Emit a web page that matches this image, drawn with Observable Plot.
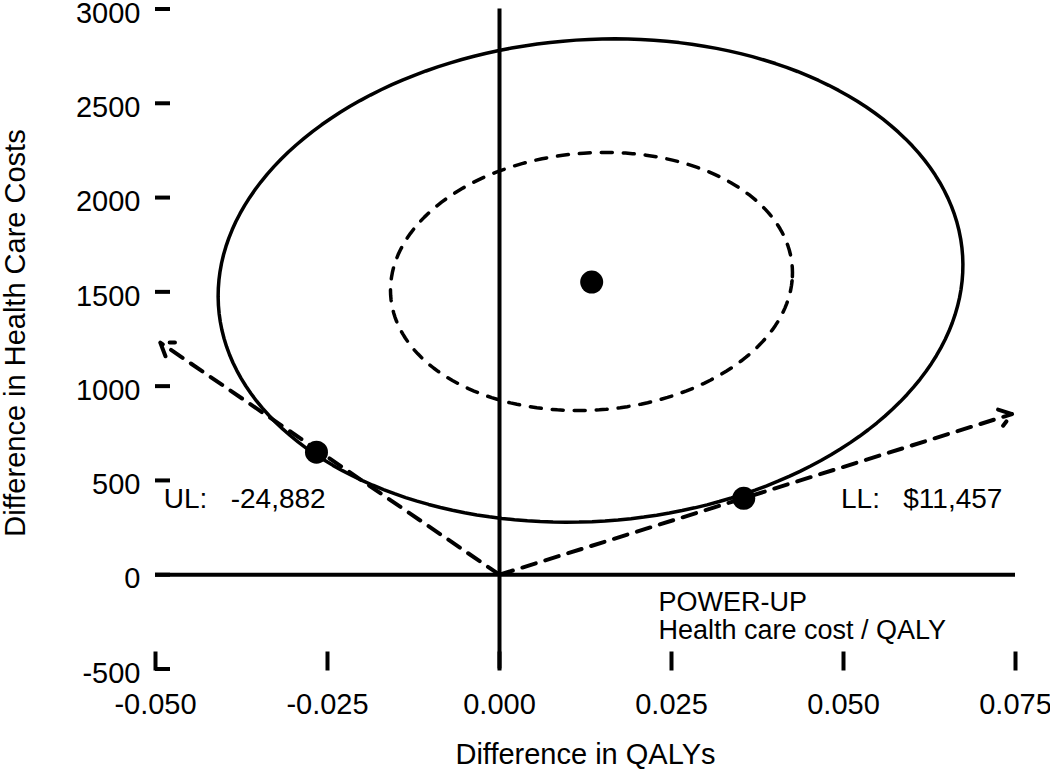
<!DOCTYPE html>
<html>
<head>
<meta charset="utf-8">
<script src="https://cdn.jsdelivr.net/npm/d3@7"></script>
<script src="https://cdn.jsdelivr.net/npm/@observablehq/plot@0.6"></script>
<style>
  html, body { margin: 0; padding: 0; background: #fff; }
</style>
</head>
<body>
<div id="chart"></div>
<script>
// ---- data ----
const xTicks = [-0.050, -0.025, 0.000, 0.025, 0.050, 0.075];
const yTicks = [-500, 0, 500, 1000, 1500, 2000, 2500, 3000];

// point estimate and the two limit points on the 95% ellipse
const pointLabels = ["mean", "UL", "LL"];
const pointX = [0.0134, -0.0266, 0.0355];
const pointY = [1552, 650, 405];

// ICER ray end points (rays start at the origin)
const rayLabels = ["UL", "LL"];
const rayEndX = [-0.0493, 0.0745];
const rayEndY = [1231, 852];

// confidence ellipses: centre, semi-axes, small tilt (x shift at top, y shift at right)
const ellipseNames = ["95%", "50%"];
const ellipseCx = [0.01323, 0.01337];
const ellipseCy = [1560, 1555];
const ellipseRx = [0.0541, 0.0292];
const ellipseRy = [1281, 684];
const ellipseTiltX = [0.00167, 0.0009];
const ellipseTiltY = [42, 25];

// annotations
const noteText = ["UL:\u00a0\u00a0\u00a0-24,882", "LL:\u00a0\u00a0\u00a0$11,457", "POWER-UP", "Health care cost / QALY"];
const noteX = [-0.0488, 0.0731, 0.0231, 0.0231];
const noteY = [399, 399, -148, -295];
const noteAnchor = ["start", "end", "start", "start"];
const noteSize = [28, 28, 27, 27];

// ---- build tables ----
const steps = d3.range(0, 361, 2).map(a => a * Math.PI / 180);
const ellipses = ellipseNames.flatMap((name, i) => steps.map(t => ({
  name,
  x: ellipseCx[i] + ellipseRx[i] * Math.cos(t) + ellipseTiltX[i] * Math.sin(t),
  y: ellipseCy[i] + ellipseRy[i] * Math.sin(t) + ellipseTiltY[i] * Math.cos(t)
})));
const points = pointLabels.map((k, i) => ({k, x: pointX[i], y: pointY[i]}));
const rays = rayLabels.map((k, i) => ({k, x1: 0, y1: 0, x2: rayEndX[i], y2: rayEndY[i]}));
const notes = noteText.map((t, i) => ({t, x: noteX[i], y: noteY[i], a: noteAnchor[i], s: noteSize[i]}));

const font = "'Liberation Sans', Arial, sans-serif";

const chart = Plot.plot({
  width: 1050,
  height: 769,
  marginLeft: 155,
  marginRight: 35,
  marginTop: 8.5,
  marginBottom: 100.5,
  style: {fontFamily: font, fontSize: "29px", color: "#000", background: "#fff", overflow: "visible"},
  x: {domain: [-0.05, 0.075]},
  y: {domain: [-500, 3000]},
  marks: [
    // inward tick marks
    Plot.ruleY(yTicks, {y: d => d, insetRight: 845, stroke: "#000", strokeWidth: 4}),
    Plot.ruleX(xTicks, {x: d => d, insetTop: 645, stroke: "#000", strokeWidth: 4, strokeLinecap: "square"}),
    // tick labels
    Plot.axisY({ticks: yTicks, tickSize: 0, tickPadding: 15, tickFormat: d => String(d), label: null, dy: 4.5, fontSize: 29}),
    Plot.axisX({ticks: xTicks, tickSize: 0, tickPadding: 24, tickFormat: d => d.toFixed(3), label: null, fontSize: 29}),
    // zero lines
    Plot.ruleX([0], {stroke: "#000", strokeWidth: 4}),
    Plot.ruleY([0], {stroke: "#000", strokeWidth: 4}),
    // ellipses
    Plot.line(ellipses.filter(d => d.name === "95%"), {x: "x", y: "y", stroke: "#000", strokeWidth: 3.5, curve: "linear"}),
    Plot.line(ellipses.filter(d => d.name === "50%"), {x: "x", y: "y", stroke: "#000", strokeWidth: 3.5, strokeDasharray: "11,11", curve: "linear"}),
    // ICER rays
    Plot.arrow(rays, {x1: "x1", y1: "y1", x2: "x2", y2: "y2", stroke: "#000", strokeWidth: 4, strokeDasharray: "14,10", headLength: 5.5, headAngle: 70}),
    // points
    Plot.dot(points, {x: "x", y: "y", r: 11.5, fill: "#000"}),
    // annotations
    Plot.text(notes.filter(d => d.a === "start" && d.s === 28), {x: "x", y: "y", text: "t", textAnchor: "start", fontSize: 28, fill: "#000"}),
    Plot.text(notes.filter(d => d.a === "start" && d.s === 27), {x: "x", y: "y", text: "t", textAnchor: "start", fontSize: 27, fill: "#000"}),
    Plot.text(notes.filter(d => d.a === "end"), {x: "x", y: "y", text: "t", textAnchor: "end", fontSize: 28, fill: "#000"}),
    // axis titles
    Plot.text(["Difference in QALYs"], {frameAnchor: "bottom", textAnchor: "middle", lineAnchor: "middle", dy: 86, fontSize: 29, fill: "#000"}),
    Plot.text(["Difference in Health Care Costs"], {frameAnchor: "left", textAnchor: "middle", lineAnchor: "middle", dx: -140, dy: -6, rotate: -90, fontSize: 29, fill: "#000"})
  ]
});
document.getElementById("chart").append(chart);
</script>
</body>
</html>
